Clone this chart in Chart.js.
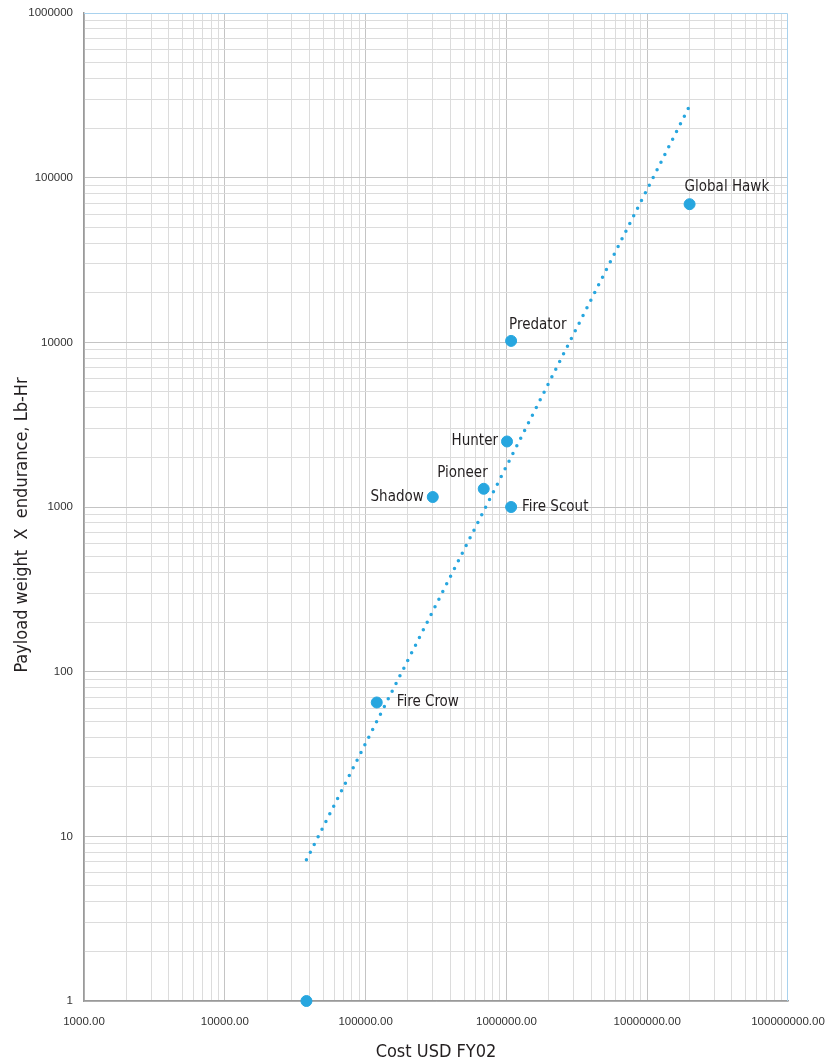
<!DOCTYPE html>
<html>
<head>
<meta charset="utf-8">
<script src="https://cdn.jsdelivr.net/npm/chart.js@4.4.1/dist/chart.umd.min.js"></script>
<style>
  html, body { margin: 0; padding: 0; background: #fff; }
  #wrap { width: 835px; height: 1063px; }
</style>
</head>
<body>
<div id="wrap"><canvas id="chart"></canvas></div>
<script>
// aircraft, cost (USD FY02) and payload weight x endurance (lb-hr)
const names = ['Global Hawk', 'Predator', 'Hunter', 'Pioneer', 'Shadow', 'Fire Scout', 'Fire Crow', ''];
const costs = [20000000, 1080000, 1010000, 690000, 300000, 1080000, 120000, 38000];
const payloadHours = [69000, 10200, 2500, 1290, 1150, 1000, 65, 1];

// power-law trend line end points
const trendCost = [38000, 20300000];
const trendPayload = [7.2, 280000];

const xTickLabels = ['1000.00', '10000.00', '100000.00', '1000000.00', '10000000.00', '100000000.00'];
const yTickLabels = ['1', '10', '100', '1000', '10000', '100000', '1000000'];
const yTitle = 'Payload weight  X  endurance, Lb-Hr';

const blue = '#27a6df';
const condensed = "'DejaVu Sans Condensed', 'Liberation Sans Narrow', 'Roboto', sans-serif";

function logTicks(min, max) {
    const out = [];
    for (let e = Math.round(Math.log10(min)); Math.pow(10, e) <= max; e++) {
        for (let s = 1; s <= 9; s++) {
            const v = s * Math.pow(10, e);
            if (v > max) break;
            out.push({ value: v, major: s === 1 });
        }
    }
    return out;
}

function isDecade(v) {
    const e = Math.log10(v);
    return Math.abs(e - Math.round(e)) < 1e-9;
}

function gridColor(ctx) {
    if (!ctx.tick) return '#dcdcdc';
    if (ctx.index === ctx.scale.ticks.length - 1) return 'rgba(0,0,0,0)';
    return ctx.tick.major ? '#c4c4c4' : '#dcdcdc';
}

// label placement relative to each point: [dx, dy, align]
const labelPlace = {
    'Global Hawk': [-5, -17, 'left'],
    'Predator': [-2, -16, 'left'],
    'Hunter': [-9, 0, 'right'],
    'Pioneer': [4, -16, 'right'],
    'Shadow': [-9, 0, 'right'],
    'Fire Scout': [11, 0, 'left'],
    'Fire Crow': [20, 0, 'left']
};

const extras = {
    id: 'extras',
    beforeDatasetsDraw(chart) {
        const a = chart.chartArea;
        const ctx = chart.ctx;
        const top = Math.round(a.top) + 0.5;
        const right = Math.round(a.right) - 0.5;
        ctx.save();
        ctx.strokeStyle = '#a9d2ee';
        ctx.lineWidth = 1;
        ctx.beginPath();
        ctx.moveTo(a.left, top);
        ctx.lineTo(right, top);
        ctx.lineTo(right, a.bottom);
        ctx.stroke();
        // y axis title
        ctx.translate(22, 525);
        ctx.rotate(-Math.PI / 2);
        ctx.font = '18px ' + condensed;
        ctx.fillStyle = '#231f20';
        ctx.textAlign = 'center';
        ctx.textBaseline = 'middle';
        ctx.fillText(yTitle, 0, 0);
        ctx.restore();
    },
    afterDatasetsDraw(chart) {
        const ctx = chart.ctx;
        const meta = chart.getDatasetMeta(0);
        ctx.save();
        ctx.font = '15px ' + condensed;
        ctx.fillStyle = '#231f20';
        ctx.textBaseline = 'middle';
        meta.data.forEach(function (pt, i) {
            const p = labelPlace[names[i]];
            if (!p) return;
            ctx.textAlign = p[2];
            ctx.fillText(names[i], pt.x + p[0], pt.y + p[1]);
        });
        ctx.restore();
    }
};

new Chart(document.getElementById('chart'), {
    type: 'scatter',
    data: {
        datasets: [{
            label: 'UAV',
            data: costs.map((c, i) => ({ x: c, y: payloadHours[i] })),
            backgroundColor: blue,
            borderColor: blue,
            pointRadius: 5.5,
            pointHoverRadius: 5.5,
            clip: false
        }, {
            label: 'Trend',
            data: trendCost.map((c, i) => ({ x: c, y: trendPayload[i] })),
            showLine: true,
            borderColor: blue,
            borderWidth: 3.5,
            borderDash: [0, 8.6],
            borderCapStyle: 'round',
            pointRadius: 0
        }]
    },
    options: {
        responsive: true,
        maintainAspectRatio: false,
        animation: false,
        layout: { padding: { top: 13, right: 47, left: 0, bottom: 0 } },
        plugins: {
            legend: { display: false },
            tooltip: { enabled: false }
        },
        scales: {
            x: {
                type: 'logarithmic',
                min: 1000,
                max: 100000000,
                afterBuildTicks: function (scale) { scale.ticks = logTicks(1000, 100000000); },
                afterFit: function (scale) { scale.height = 62; scale.paddingLeft = 0; scale.paddingRight = 0; },
                border: { color: '#9a9a9a', width: 1.5 },
                grid: { drawTicks: false, color: gridColor, lineWidth: 1 },
                ticks: {
                    autoSkip: false,
                    maxRotation: 0,
                    padding: 14,
                    color: '#333',
                    font: { family: "'Liberation Sans', Arial, sans-serif", size: 11.5 },
                    callback: v => (isDecade(v) ? xTickLabels[Math.round(Math.log10(v)) - 3] : '')
                },
                title: {
                    display: true,
                    text: 'Cost USD FY02',
                    color: '#231f20',
                    padding: { top: 6, bottom: 0 },
                    font: { family: condensed, size: 18 }
                }
            },
            y: {
                type: 'logarithmic',
                min: 1,
                max: 1000000,
                afterBuildTicks: function (scale) { scale.ticks = logTicks(1, 1000000); },
                afterFit: function (scale) { scale.width = 84; scale.paddingTop = 0; scale.paddingBottom = 0; },
                border: { color: '#9a9a9a', width: 1.5 },
                grid: { drawTicks: false, color: gridColor, lineWidth: 1 },
                ticks: {
                    autoSkip: false,
                    padding: 11,
                    color: '#333',
                    font: { family: "'Liberation Sans', Arial, sans-serif", size: 11.5 },
                    callback: v => (isDecade(v) ? yTickLabels[Math.round(Math.log10(v))] : '')
                },
                title: { display: false }
            }
        }
    },
    plugins: [extras]
});
</script>
</body>
</html>
